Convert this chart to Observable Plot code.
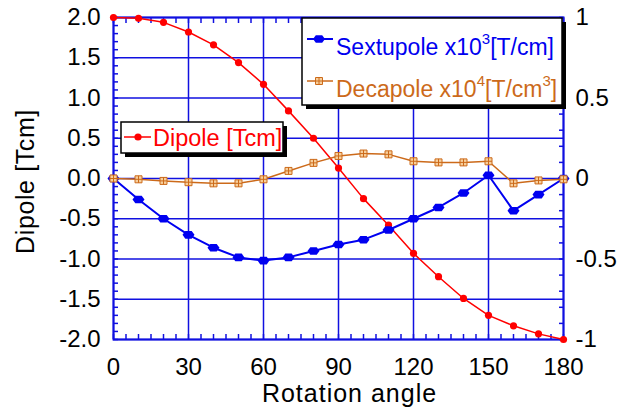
<!DOCTYPE html>
<html><head><meta charset="utf-8">
<script src="https://cdn.jsdelivr.net/npm/d3@7"></script>
<script src="https://cdn.jsdelivr.net/npm/@observablehq/plot@0.6"></script>
<style>
body{margin:0;background:#fff}
svg{font-family:"Liberation Sans",Arial,Helvetica,sans-serif}
</style>
</head><body><div id="chart"></div>
<script>
// ---- data ----
const angles = [0,10,20,30,40,50,60,70,80,90,100,110,120,130,140,150,160,170,180];
const dipole = [2.00,1.99,1.94,1.82,1.66,1.44,1.17,0.84,0.50,0.13,-0.25,-0.58,-0.93,-1.22,-1.49,-1.70,-1.83,-1.93,-2.00];
const sextupole = [0,-0.13,-0.25,-0.35,-0.43,-0.49,-0.51,-0.49,-0.45,-0.41,-0.38,-0.32,-0.25,-0.18,-0.09,0.02,-0.20,-0.10,0];
const decapole = [0.0,-0.005,-0.015,-0.023,-0.03,-0.03,-0.005,0.047,0.097,0.14,0.155,0.15,0.107,0.10,0.10,0.107,-0.03,-0.012,-0.005];
const xTicks = [0,30,60,90,120,150,180];
const yLeftTicks = [-2,-1.5,-1,-0.5,0,0.5,1,1.5,2];
const yRightTicks = [-1,-0.5,0,0.5,1];
const xLabel = "Rotation angle";
const yLabel = "Dipole [Tcm]";

// ---- styles ----
const BLUE = "#0000f0", GRID = "#1010e0", RED = "#ff0000", ORANGE = "#cc6a1a", ORANGE_FILL = "#f7cf9c";
const R2L = 2; // right axis value -> left axis units

const rows = angles.map((a, i) => ({a, dip: dipole[i], sex: sextupole[i], dec: decapole[i]}));

const hexSym = {draw(c){ c.moveTo(-6,0); c.lineTo(-3.2,-3.8); c.lineTo(3.2,-3.8); c.lineTo(6,0); c.lineTo(3.2,3.8); c.lineTo(-3.2,3.8); c.closePath(); }};
const sqSym = {draw(c){ c.moveTo(-3.5,-3.5); c.lineTo(3.5,-3.5); c.lineTo(3.5,3.5); c.lineTo(-3.5,3.5); c.closePath(); c.moveTo(0,-3.5); c.lineTo(0,3.5); c.moveTo(-3.5,0); c.lineTo(3.5,0); }};

const minorX = d3.range(0, 181, 5);
const minorYL = d3.range(-20, 21, 1).map(v => v / 10);
const minorYR = d3.range(-10, 11, 1).map(v => v / 10 * R2L);

const plot = Plot.plot({
  width: 627, height: 412,
  marginLeft: 113, marginRight: 64, marginTop: 17, marginBottom: 73,
  x: {domain: [0, 180]},
  y: {domain: [-2, 2]},
  style: {fontFamily: '"Liberation Sans",Arial,sans-serif', background: "#fff", color: "#000"},
  marks: [
    Plot.gridX(xTicks, {stroke: GRID, strokeOpacity: 1, strokeWidth: 1.5}),
    Plot.gridY(yLeftTicks, {stroke: GRID, strokeOpacity: 1, strokeWidth: 1.5}),
    // minor inward ticks
    Plot.axisY({ticks: minorYL, tickSize: -5, tickFormat: () => "", label: null, stroke: GRID, strokeWidth: 1.5}),
    Plot.axisY({anchor: "right", ticks: minorYR, tickSize: -5, tickFormat: () => "", label: null, stroke: GRID, strokeWidth: 1.5}),
    Plot.axisX({ticks: minorX, tickSize: -5, tickFormat: () => "", label: null, stroke: GRID, strokeWidth: 1.5}),
    Plot.axisX({anchor: "top", ticks: minorX, tickSize: -5, tickFormat: () => "", label: null, stroke: GRID, strokeWidth: 1.5}),
    // tick labels
    Plot.axisY({ticks: yLeftTicks, tickSize: 0, tickPadding: 13, tickFormat: d => d.toFixed(1), fontSize: 24, label: null}),
    Plot.axisY({anchor: "right", ticks: yRightTicks.map(v => v * R2L), tickSize: 0, tickPadding: 12, tickFormat: d => String(d / R2L), fontSize: 24, label: null}),
    Plot.axisX({ticks: xTicks, tickSize: 0, tickPadding: 18, fontSize: 24, label: null}),
    Plot.frame({stroke: GRID, strokeWidth: 2}),
    // series
    Plot.line(rows, {x: "a", y: "dip", stroke: RED, strokeWidth: 1.5}),
    Plot.dot(rows, {x: "a", y: "dip", r: 3.6, fill: RED, stroke: "none"}),
    Plot.line(rows, {x: "a", y: d => d.sex * R2L, stroke: BLUE, strokeWidth: 2}),
    Plot.dot(rows, {x: "a", y: d => d.sex * R2L, symbol: hexSym, fill: BLUE, stroke: "none"}),
    Plot.line(rows, {x: "a", y: d => d.dec * R2L, stroke: ORANGE, strokeWidth: 1.5}),
    Plot.dot(rows, {x: "a", y: d => d.dec * R2L, symbol: sqSym, fill: ORANGE_FILL, stroke: ORANGE, strokeWidth: 1}),
    // axis titles
    Plot.text([yLabel], {frameAnchor: "left", dx: -88, dy: 3, rotate: -90, fontSize: 25, fill: "#000", textAnchor: "middle", lineAnchor: "middle"}),
    Plot.text([xLabel], {frameAnchor: "bottom", dx: 11, dy: 54, fontSize: 25, fill: "#000", textAnchor: "middle", lineAnchor: "middle"})
  ]
});

document.getElementById("chart").appendChild(plot);

const svg = d3.select(plot);
// wider letter spacing for the axis titles, as in the reference rendering
svg.selectAll("text").filter(function(){ return this.textContent === yLabel; }).attr("letter-spacing", 0.6);
svg.selectAll("text").filter(function(){ return this.textContent === xLabel; }).attr("letter-spacing", 1);

// ---- legends ----
function box(x, y, w, h, off) {
  const g = svg.append("g").attr("text-anchor", "start");
  g.append("rect").attr("x", x + off).attr("y", y + off).attr("width", w).attr("height", h).attr("fill", "#000");
  g.append("rect").attr("x", x).attr("y", y).attr("width", w).attr("height", h).attr("fill", "#fff").attr("stroke", "#000").attr("stroke-width", 1.5);
  return g;
}
function symPath(sym) { const p = d3.path(); sym.draw(p); return p.toString(); }

// Sextupole / Decapole legend
const g1 = box(302, 18, 260, 87, 4);
g1.append("line").attr("x1", 307).attr("x2", 333).attr("y1", 39).attr("y2", 39).attr("stroke", BLUE).attr("stroke-width", 2);
g1.append("path").attr("d", symPath(hexSym)).attr("transform", "translate(319,39)").attr("fill", BLUE);
const t1 = g1.append("text").attr("x", 336).attr("y", 55).attr("font-size", 23).attr("fill", BLUE).attr("text-anchor", "start");
t1.append("tspan").text("Sextupole x10");
t1.append("tspan").attr("font-size", 15).attr("dy", -11).text("3");
t1.append("tspan").attr("dy", 11).text("[T/cm]");
g1.append("line").attr("x1", 307).attr("x2", 333).attr("y1", 81).attr("y2", 81).attr("stroke", ORANGE).attr("stroke-width", 1.5);
g1.append("path").attr("d", symPath(sqSym)).attr("transform", "translate(319,81)").attr("fill", ORANGE_FILL).attr("stroke", ORANGE);
const t2 = g1.append("text").attr("x", 336).attr("y", 97).attr("font-size", 23).attr("fill", ORANGE).attr("text-anchor", "start");
t2.append("tspan").text("Decapole x10");
t2.append("tspan").attr("font-size", 15).attr("dy", -11).text("4");
t2.append("tspan").attr("dy", 11).text("[T/cm");
t2.append("tspan").attr("font-size", 15).attr("dy", -11).text("3");
t2.append("tspan").attr("dy", 11).text("]");

// Dipole legend
const g2 = box(121, 122, 162, 31, 4);
g2.append("line").attr("x1", 124).attr("x2", 151).attr("y1", 137).attr("y2", 137).attr("stroke", RED).attr("stroke-width", 1.5);
g2.append("circle").attr("cx", 138).attr("cy", 137).attr("r", 3.6).attr("fill", RED);
g2.append("text").attr("x", 153).attr("y", 146).attr("font-size", 23.5).attr("fill", RED).attr("text-anchor", "start").text("Dipole [Tcm]");
</script>
</body></html>
